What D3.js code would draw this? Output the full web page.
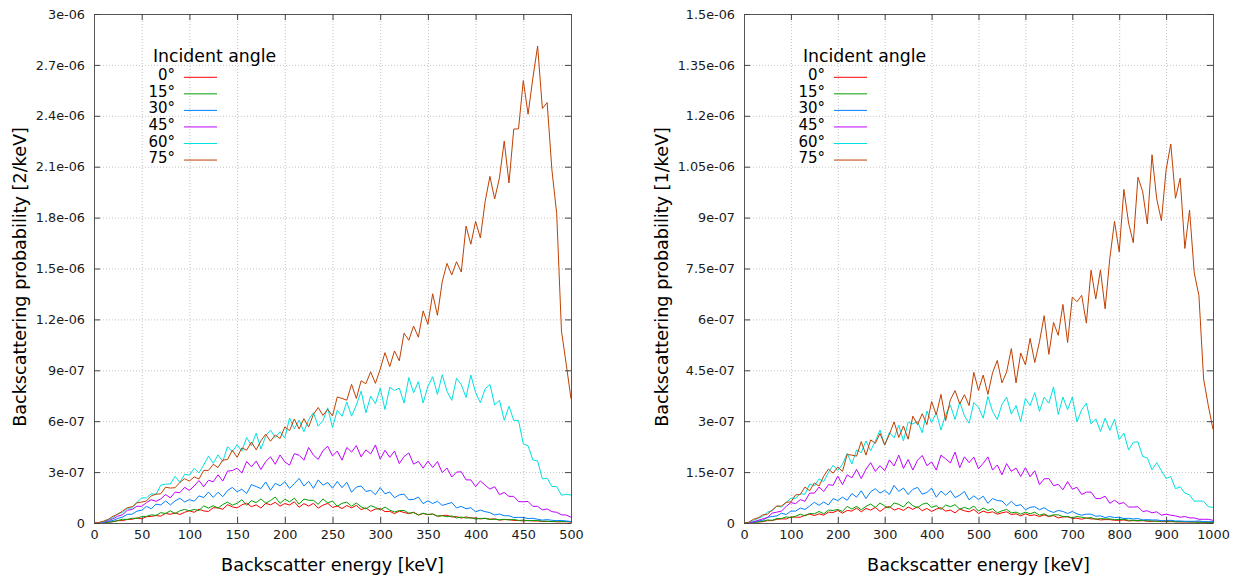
<!DOCTYPE html>
<html>
<head>
<meta charset="utf-8">
<script src="https://cdn.jsdelivr.net/npm/d3@7"></script>
<style>
body { margin: 0; background: #fff; }
svg { font-family: "DejaVu Sans", sans-serif; }
</style>
</head>
<body>
<div id="chart"></div>
<script>
var angles = ["0°", "15°", "30°", "45°", "60°", "75°"];
var colors = ["#ff0000", "#00a000", "#0080ff", "#c000ff", "#00e0e0", "#c04000"];

// tick labels
var leftXTicks = [0, 50, 100, 150, 200, 250, 300, 350, 400, 450, 500];
var leftYTicks = ["0", "3e-07", "6e-07", "9e-07", "1.2e-06", "1.5e-06", "1.8e-06", "2.1e-06", "2.4e-06", "2.7e-06", "3e-06"];
var rightXTicks = [0, 100, 200, 300, 400, 500, 600, 700, 800, 900, 1000];
var rightYTicks = ["0", "1.5e-07", "3e-07", "4.5e-07", "6e-07", "7.5e-07", "9e-07", "1.05e-06", "1.2e-06", "1.35e-06", "1.5e-06"];

// left panel: bins every 5 keV from 0 to 500, values in 1e-9 /keV
var leftStep = 5;
var left0 = [0,1,2,4,8,14,14,21,22,30, 25,37,39,44,40,57,51,60,50,63, 72,63,81,71,68,90,89,81,108,95,
  89,107,117,96,107,88,116,107,122,99, 115,106,125,93,114,100,116,88,105,116, 92,100,85,103,89,104,79,89,69,82,
  85,67,69,55,70,62,55,64,47,56, 49,53,40,44,46,35,38,29,36,29, 30,24,28,22,25,17,20,20,15,15,
  12,15,12,12,9,9,9,7,7,8, 5];
var left15 = [0,1,2,5,8,15,22,21,28,27, 39,39,48,45,61,56,72,55,72,80, 72,80,73,101,88,102,88,109,123,105,
  116,137,104,132,120,142,117,132,153,116, 140,125,146,111,141,134,134,110,142,118, 130,98,116,123,99,118,96,83,102,92,
  77,94,76,65,73,74,58,61,47,58, 50,53,40,43,37,42,30,35,29,31, 23,27,27,21,22,19,22,18,21,15,
  17,13,15,15,11,11,8,11,9,8, 9];
var left30 = [0,1,4,10,15,27,35,51,52,70, 75,98,84,111,106,130,107,130,146,124, 138,128,160,150,182,151,181,155,191,210,
  184,199,174,226,215,203,242,193,234,219, 243,204,232,263,218,246,204,254,223,239, 205,245,208,240,181,212,218,186,192,167,
  209,172,183,149,166,170,137,139,153,114, 131,115,128,104,112,121,89,98,84,90, 66,76,67,61,47,53,43,43,32,33,
  33,26,28,22,17,20,16,14,15,12, 9];
var left45 = [0,1,5,15,25,40,49,75,80,99, 98,120,137,128,142,168,148,182,179,210, 192,218,250,214,252,243,284,247,306,309,
  323,294,363,331,365,315,362,390,346,401, 360,341,409,399,370,445,400,375,427,452, 395,424,370,445,418,456,390,431,407,460,
  376,429,387,424,350,392,413,347,363,323, 365,327,362,297,324,271,300,302,254,254, 215,248,223,200,214,167,180,157,157,126,
  125,127,98,98,77,83,67,63,48,47, 34];
var left60 = [0,2,7,19,31,56,62,86,90,122, 148,148,172,169,223,229,230,275,239,287, 282,322,295,342,394,352,401,363,450,421,
  461,423,504,456,529,436,513,548,503,538, 501,619,555,607,538,609,650,571,604,679, 563,665,629,713,630,694,777,649,748,703,
  794,669,800,781,795,707,857,768,833,707, 806,862,758,874,777,723,853,815,740,872, 769,709,790,817,695,724,605,688,605,604,
  467,455,372,366,260,264,215,215,164,169, 165];
var left75 = [0,3,11,22,40,51,71,90,96,119, 123,130,160,170,172,211,206,208,239,261, 247,272,259,310,310,346,327,371,374,429,
  387,443,429,477,431,484,524,482,519,498, 566,545,613,554,615,566,640,681,634,670, 631,743,734,724,817,734,838,821,891,823,
  907,1004,922,1014,956,1119,1077,1161,1095,1250, 1171,1351,1224,1422,1530,1462,1540,1479,1750,1643, 1778,1680,1894,2043,1910,2034,2251,2004,2322,2323,
  2608,2409,2621,2811,2443,2478,2081,1824,1132,936, 732];

// right panel: bins every 10 keV from 0 to 1000, values in 1e-9 /keV
var rightStep = 10;
var right0 = [0,1,2,3,4,7,7,11,12,12, 18,17,17,23,26,22,27,23,32,31, 37,29,37,35,44,33,43,38,46,34,
  44,49,38,43,37,47,40,48,36,43, 34,41,45,35,38,30,41,36,33,40, 28,35,30,33,26,30,33,25,27,21,
  27,22,24,19,24,19,22,15,18,18, 14,14,11,15,12,12,9,10,10,8, 8,9,6,7,6,7,5,5,6,4,
  4,4,4,3,3,3,3,3,2,2, 2];
var right15 = [0,1,2,3,5,9,8,13,13,18, 16,20,26,21,28,27,34,27,38,37, 40,34,49,41,49,39,49,56,46,59,
  50,44,59,55,47,63,51,45,55,59, 46,51,40,53,48,54,41,46,41,50, 35,44,37,42,30,36,40,30,32,26,
  32,27,32,23,27,20,24,24,19,19, 15,19,17,14,16,11,13,12,12,10, 10,11,8,8,7,8,7,6,5,6,
  5,6,3,4,4,3,3,2,3,2, 2];
var right30 = [0,1,3,6,8,17,19,21,29,25, 35,35,44,40,50,61,52,62,53,72, 66,76,67,87,76,95,72,92,101,88,
  96,84,111,93,103,84,99,105,85,90, 103,76,94,82,95,75,82,93,68,80, 69,79,58,72,66,65,51,64,51,54,
  39,46,48,39,45,36,31,37,34,28, 34,27,23,26,26,20,21,16,19,16, 17,13,14,12,13,9,10,9,9,7,
  7,8,6,6,5,5,5,6,4,4, 4];
var right45 = [0,1,3,8,12,16,29,32,35,49, 60,57,69,64,88,88,106,93,113,111, 138,113,142,133,158,131,158,178,152,169,
  154,186,168,200,161,187,156,185,199,169, 180,156,200,189,177,209,163,195,178,194, 160,176,195,156,171,142,175,152,162,137,
  163,136,154,113,130,131,110,114,98,122, 100,105,84,91,91,72,72,79,58,67, 57,60,47,47,48,34,36,30,33,23,
  26,23,21,17,19,15,15,11,11,11, 8];
var right60 = [0,2,7,14,19,32,36,50,47,61, 73,73,86,85,115,109,130,122,149,170, 155,173,205,174,215,207,242,213,241,274,
  229,267,251,288,242,297,292,299,266,330, 296,325,274,320,347,305,357,316,294,355, 341,309,373,329,305,349,371,321,346,299,
  367,346,384,329,371,353,401,320,371,334, 371,298,334,353,292,307,270,309,273,306, 246,265,215,238,239,196,192,157,178,154,
  131,137,101,107,88,83,64,65,64,48, 46];
var right75 = [0,2,11,15,24,26,38,50,50,61, 62,83,84,106,95,118,109,138,159,147, 165,152,202,200,197,240,200,245,235,264,
  230,261,298,252,286,247,315,290,322,290, 358,319,379,302,363,390,351,378,346,444, 391,436,379,443,479,413,445,514,413,501,
  466,544,473,534,611,497,591,553,644,532, 666,652,671,589,745,660,746,631,780,889, 799,983,884,826,1019,977,881,1085,955,891,
  1041,1117,957,1016,809,922,737,670,424,346, 276];

var panels = [
  {left: 94, right: 571, top: 14, bottom: 523, xMax: 500, step: leftStep,
   xTicks: leftXTicks, yTicks: leftYTicks, yLabel: "Backscattering probability [2/keV]", yLabelX: 20,
   series: [left0, left15, left30, left45, left60, left75]},
  {left: 744, right: 1213, top: 14, bottom: 523, xMax: 1000, step: rightStep,
   xTicks: rightXTicks, yTicks: rightYTicks, yLabel: "Backscattering probability [1/keV]", yLabelX: 662,
   series: [right0, right15, right30, right45, right60, right75]}
];

var svg = d3.select("#chart").append("svg")
    .attr("width", 1233)
    .attr("height", 577);

panels.forEach(function(p) { drawPanel(p); });

function drawPanel(p) {
    var yVals = p.yTicks.map(function(t) { return +t * 1e9; });
    var x = d3.scaleLinear().domain([0, p.xMax]).range([p.left, p.right]),
        y = d3.scaleLinear().domain([0, yVals[yVals.length - 1]]).range([p.bottom, p.top]);

    // dotted grid
    var grid = svg.append("g").attr("class", "grid");
    grid.append("g")
        .attr("transform", "translate(0," + p.bottom + ")")
        .call(d3.axisBottom(x).tickValues(p.xTicks.slice(1, -1)).tickSize(-(p.bottom - p.top)).tickFormat(""));
    grid.append("g")
        .attr("transform", "translate(" + p.left + ",0)")
        .call(d3.axisLeft(y).tickValues(yVals.slice(1, -1)).tickSize(-(p.right - p.left)).tickFormat(""));
    grid.selectAll(".domain").remove();
    grid.selectAll("line")
        .attr("stroke", "#c4c4c4")
        .attr("stroke-dasharray", "1,2");

    // spectra, 0 deg first so 75 deg sits on top
    p.series.forEach(function(vals, k) {
        svg.append("path")
            .datum(vals)
            .attr("fill", "none")
            .attr("stroke", colors[k])
            .attr("stroke-width", 1)
            .attr("stroke-linejoin", "bevel")
            .attr("d", d3.line()
                .x(function(d, i) { return x(i * p.step); })
                .y(function(d) { return y(d); }));
    });

    // axes with inward ticks on all four sides
    var axes = svg.append("g").attr("class", "axes");
    axes.append("g")
        .attr("transform", "translate(0," + p.bottom + ")")
        .call(d3.axisBottom(x).tickValues(p.xTicks).tickSizeInner(-6).tickSizeOuter(0).tickPadding(7)
            .tickFormat(d3.format("d")));
    axes.append("g")
        .attr("transform", "translate(0," + p.top + ")")
        .call(d3.axisTop(x).tickValues(p.xTicks).tickSizeInner(-6).tickSizeOuter(0).tickFormat(""));
    axes.append("g")
        .attr("transform", "translate(" + p.left + ",0)")
        .call(d3.axisLeft(y).tickValues(yVals).tickSizeInner(-6).tickSizeOuter(0).tickPadding(9)
            .tickFormat(function(d, i) { return p.yTicks[i]; }));
    axes.append("g")
        .attr("transform", "translate(" + p.right + ",0)")
        .call(d3.axisRight(y).tickValues(yVals).tickSizeInner(-6).tickSizeOuter(0).tickFormat(""));
    axes.selectAll(".domain").attr("stroke", "#555");
    axes.selectAll(".tick line").attr("stroke", "#444");
    axes.selectAll(".tick text")
        .attr("fill", "#1a1a1a")
        .style("font-size", "12.8px")
        .style("font-family", "DejaVu Sans");

    // axis titles
    svg.append("text")
        .attr("x", (p.left + p.right) / 2)
        .attr("y", 571)
        .attr("text-anchor", "middle")
        .style("font-size", "17.6px")
        .text("Backscatter energy [keV]");
    svg.append("text")
        .attr("transform", "translate(" + p.yLabelX + ",277) rotate(-90)")
        .attr("text-anchor", "middle")
        .attr("dy", "0.35em")
        .style("font-size", "17.6px")
        .text(p.yLabel);

    // legend
    var lg = svg.append("g").attr("transform", "translate(" + p.left + ",0)");
    lg.append("text")
        .attr("x", 59)
        .attr("y", 62)
        .style("font-size", "17.3px")
        .text("Incident angle");
    var rows = lg.selectAll(".row")
        .data(angles)
        .enter().append("g")
        .attr("class", "row")
        .attr("transform", function(d, i) { return "translate(0," + (77.3 + i * 16.55) + ")"; });
    rows.append("text")
        .attr("x", 81)
        .attr("dy", "0.2em")
        .attr("text-anchor", "end")
        .style("font-size", "15px")
        .text(function(d) { return d; });
    rows.append("line")
        .attr("x1", 90)
        .attr("x2", 123)
        .attr("stroke", function(d, i) { return colors[i]; })
        .attr("stroke-width", 1);
}
</script>
</body>
</html>
